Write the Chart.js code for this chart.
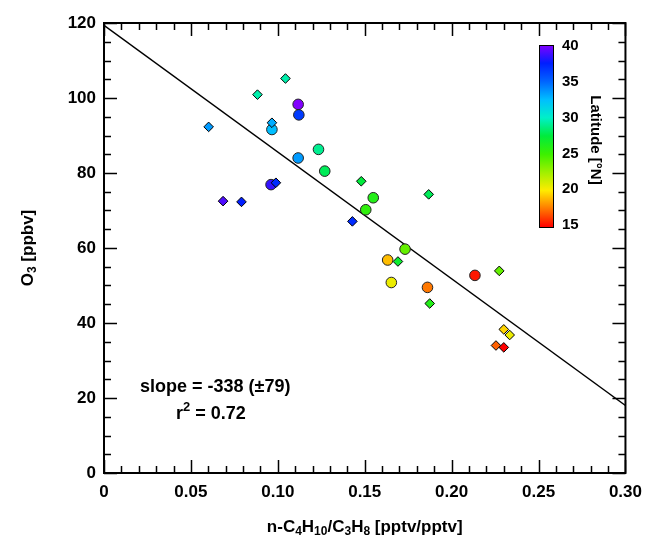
<!DOCTYPE html>
<html>
<head>
<meta charset="utf-8">
<script src="https://cdn.jsdelivr.net/npm/chart.js@4/dist/chart.umd.min.js"></script>
<style>
  body { margin: 0; background: #fff; }
  canvas { display: block; }
</style>
</head>
<body>
<canvas id="myChart" width="651" height="541"></canvas>
<script>
// circles
const circleRatio = [0.1117, 0.1121, 0.0966, 0.1117, 0.0961, 0.1234, 0.127, 0.1549, 0.1506, 0.1732, 0.1632, 0.1653, 0.1861, 0.2134];
const circleO3    = [98.3, 95.5, 91.6, 84.0, 76.9, 86.3, 80.5, 73.4, 70.2, 59.7, 56.8, 50.8, 49.5, 52.7];
const circleLat   = [40, 36.5, 32.5, 33.5, 38.5, 29, 28, 26, 25.5, 24, 19, 20.5, 17.5, 15.5];

// diamonds
const diamondRatio = [0.1044, 0.0883, 0.0602, 0.0966, 0.0989, 0.0685, 0.0791, 0.148, 0.1868, 0.1429, 0.1691, 0.1874, 0.2274, 0.23, 0.2334, 0.2255, 0.23];
const diamondO3    = [105.2, 100.9, 92.3, 93.4, 77.4, 72.5, 72.3, 77.8, 74.3, 67.1, 56.4, 45.2, 53.9, 38.3, 36.8, 34.0, 33.5];
const diamondLat   = [29.5, 29.5, 33.5, 33, 37, 39, 37.5, 27.5, 28, 37, 27, 26, 24, 19.5, 20.5, 17, 15];

// fit
const fitSlope = -338;
const fitIntercept = 119.4;
const fitX = [0, 0.30];

const xTicks = [0, 0.05, 0.10, 0.15, 0.20, 0.25, 0.30];
const yTicks = [0, 20, 40, 60, 80, 100, 120];
const latTicks = [15, 20, 25, 30, 35, 40];

// rainbow colour map for latitude
const latStops = [15, 17.5, 20, 22.5, 25, 27.5, 30, 32.5, 35, 37.5, 40];
const latRGB = [[255,0,0],[255,120,0],[255,235,0],[160,240,0],[60,240,0],[0,235,60],[0,240,200],[0,190,255],[0,100,255],[0,30,255],[130,0,255]];

function latColor(v) {
    if (v <= latStops[0]) return 'rgb(' + latRGB[0].join(',') + ')';
    for (let i = 1; i < latStops.length; i++) {
        if (v <= latStops[i]) {
            const t = (v - latStops[i-1]) / (latStops[i] - latStops[i-1]);
            const a = latRGB[i-1], b = latRGB[i];
            return 'rgb(' + [0,1,2].map(k => Math.round(a[k] + (b[k]-a[k])*t)).join(',') + ')';
        }
    }
    return 'rgb(' + latRGB[latRGB.length-1].join(',') + ')';
}

const FONT = '"Liberation Sans", Arial, sans-serif';

function drawRich(ctx, parts, x, y, size, align) {
    let total = 0;
    const widths = parts.map(p => {
        ctx.font = 'bold ' + (p[1] ? Math.round(size*0.7) : size) + 'px ' + FONT;
        const w = ctx.measureText(p[0]).width;
        total += w;
        return w;
    });
    let cx = align === 'center' ? x - total/2 : x;
    ctx.textBaseline = 'middle';
    ctx.textAlign = 'left';
    parts.forEach((p, i) => {
        ctx.font = 'bold ' + (p[1] ? Math.round(size*0.7) : size) + 'px ' + FONT;
        let dy = 0;
        if (p[1] === 'sub') dy = size*0.3;
        if (p[1] === 'sup') dy = -size*0.35;
        ctx.fillText(p[0], cx, y + dy);
        cx += widths[i];
    });
}

const framePlugin = {
    id: 'frame',
    beforeDatasetsDraw(chart) {
        const ctx = chart.ctx, a = chart.chartArea;
        const xs = chart.scales.x, ys = chart.scales.y;
        ctx.save();
        ctx.strokeStyle = '#000';
        ctx.lineWidth = 1.5;
        ctx.beginPath();
        for (let i = 0; i <= 30; i++) {
            const px = Math.round(xs.getPixelForValue(i/100)) + 0.5;
            const len = i % 5 === 0 ? 13 : 7;
            ctx.moveTo(px, a.bottom); ctx.lineTo(px, a.bottom - len);
            ctx.moveTo(px, a.top); ctx.lineTo(px, a.top + len);
        }
        for (let v = 0; v <= 120; v += 5) {
            const py = Math.round(ys.getPixelForValue(v)) + 0.5;
            const len = v % 20 === 0 ? 13 : 7;
            ctx.moveTo(a.left, py); ctx.lineTo(a.left + len, py);
            ctx.moveTo(a.right, py); ctx.lineTo(a.right - len, py);
        }
        ctx.stroke();
        ctx.lineWidth = 2;
        ctx.strokeRect(a.left, a.top, a.right - a.left, a.bottom - a.top);
        ctx.restore();
    },
    afterDraw(chart) {
        const ctx = chart.ctx, a = chart.chartArea;
        ctx.save();
        ctx.fillStyle = '#000';

        // axis titles
        drawRich(ctx, [['n-C'], ['4','sub'], ['H'], ['10','sub'], ['/C'], ['3','sub'], ['H'], ['8','sub'], [' [pptv/pptv]']],
                 (a.left + a.right)/2, 527, 17, 'center');
        ctx.save();
        ctx.translate(28, (a.top + a.bottom)/2);
        ctx.rotate(-Math.PI/2);
        drawRich(ctx, [['O'], ['3','sub'], [' [ppbv]']], 0, 0, 17, 'center');
        ctx.restore();

        // fit annotation
        drawRich(ctx, [['slope = ' + fitSlope + ' (\u00b179)']], 140, 387, 18, 'left');
        drawRich(ctx, [['r'], ['2','sup'], [' = 0.72']], 176, 414, 18, 'left');

        // colour bar
        const bx = 539, bw = 14, top = 45, bot = 227;
        const g = ctx.createLinearGradient(0, bot, 0, top);
        latStops.forEach((s, i) => g.addColorStop((s - 15)/25, latColor(s)));
        ctx.fillStyle = g;
        ctx.fillRect(bx, top, bw, bot - top);
        ctx.strokeStyle = '#000';
        ctx.lineWidth = 1;
        ctx.strokeRect(bx + 0.5, top + 0.5, bw, bot - top);
        ctx.fillStyle = '#000';
        ctx.font = 'bold 15px ' + FONT;
        ctx.textAlign = 'left';
        ctx.textBaseline = 'middle';
        latTicks.forEach(t => {
            const py = bot - (t - 15)/25 * (bot - top - 3) - 2;
            ctx.fillText(String(t), 562, py);
        });
        ctx.save();
        ctx.translate(595, 140);
        ctx.rotate(Math.PI/2);
        ctx.textAlign = 'center';
        ctx.font = 'bold 15px ' + FONT;
        ctx.fillText('Latitude [\u00b0N]', 0, 0);
        ctx.restore();
        ctx.restore();
    }
};

const ctx = document.getElementById('myChart').getContext('2d');
const chart = new Chart(ctx, {
    type: 'scatter',
    data: {
        datasets: [
            {
                label: 'diamonds',
                data: diamondRatio.map((x, i) => ({ x: x, y: diamondO3[i] })),
                pointStyle: 'rectRot',
                pointRadius: 4.8,
                borderWidth: 1,
                borderColor: '#000',
                backgroundColor: c => latColor(diamondLat[c.dataIndex])
            },
            {
                label: 'circles',
                data: circleRatio.map((x, i) => ({ x: x, y: circleO3[i] })),
                pointStyle: 'circle',
                pointRadius: 5.3,
                borderWidth: 1,
                borderColor: '#222',
                backgroundColor: c => latColor(circleLat[c.dataIndex])
            },
            {
                type: 'line',
                label: 'fit',
                data: fitX.map(x => ({ x: x, y: fitIntercept + fitSlope * x })),
                borderColor: '#000',
                borderWidth: 1.5,
                pointRadius: 0,
                fill: false
            }
        ]
    },
    options: {
        responsive: false,
        animation: false,
        devicePixelRatio: 1,
        layout: { padding: { top: 23, right: 17, left: 0, bottom: 0 } },
        plugins: {
            legend: { display: false },
            tooltip: { enabled: false }
        },
        scales: {
            x: {
                type: 'linear',
                min: 0,
                max: 0.3,
                grid: { display: false, drawTicks: false },
                border: { display: false },
                afterBuildTicks: s => { s.ticks = xTicks.map(v => ({ value: v })); },
                afterFit: s => { s.height = 68; },
                ticks: {
                    color: '#000',
                    font: { family: FONT, size: 17, weight: 'bold' },
                    padding: 9,
                    maxRotation: 0,
                    autoSkip: false,
                    callback: v => v === 0 ? '0' : v.toFixed(2)
                }
            },
            y: {
                min: 0,
                max: 120,
                grid: { display: false, drawTicks: false },
                border: { display: false },
                afterBuildTicks: s => { s.ticks = yTicks.map(v => ({ value: v })); },
                afterFit: s => { s.width = 104; },
                ticks: {
                    color: '#000',
                    font: { family: FONT, size: 17, weight: 'bold' },
                    padding: 8,
                    callback: v => String(v)
                }
            }
        }
    },
    plugins: [framePlugin]
});
</script>
</body>
</html>
